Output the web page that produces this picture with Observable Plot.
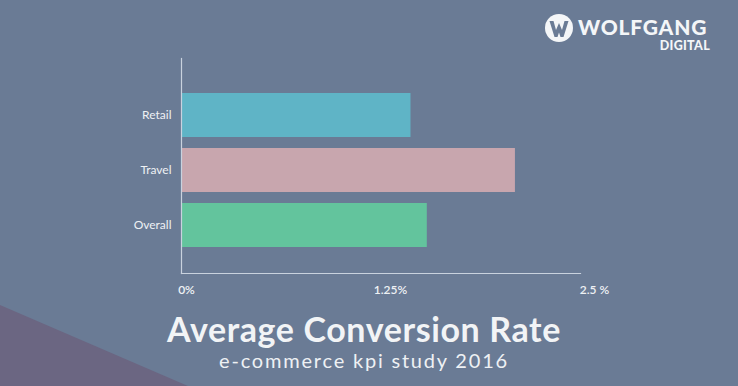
<!DOCTYPE html>
<html>
<head>
<meta charset="utf-8">
<script src="https://cdn.jsdelivr.net/npm/d3@7"></script>
<script src="https://cdn.jsdelivr.net/npm/@observablehq/plot@0.6"></script>
<style>
  html, body { margin: 0; padding: 0; }
  body { width: 738px; height: 386px; overflow: hidden; background: #6a7b95; font-family: Lato, "Open Sans", sans-serif; }
  #wrap { position: relative; width: 738px; height: 386px; }
  #deco { position: absolute; left: 0; top: 0; width: 738px; height: 386px; }
  #chart { position: absolute; left: 0; top: 0; }
  #title { position: absolute; left: 0; width: 728px; top: 309px; text-align: center; color: #f2f4f6; font-size: 34px; line-height: 40px; font-weight: 700; letter-spacing: 0.6px; }
  #subtitle { position: absolute; left: 0; width: 728px; top: 348px; text-align: center; color: #eef1f4; font-size: 20px; line-height: 24px; letter-spacing: 1.8px; font-weight: 400; }
  #logo { position: absolute; left: 544px; top: 13px; width: 170px; height: 45px; color: #f4f6f8; }
  #logo .word { position: absolute; left: 34px; top: 3px; font-size: 21px; font-weight: 900; letter-spacing: 0.8px; line-height: 22px; }
  #logo .sub { position: absolute; right: 4px; top: 27px; font-size: 12.5px; font-weight: 900; letter-spacing: 0.3px; line-height: 12px; }
</style>
</head>
<body>
<div id="wrap">
  <svg id="deco" width="738" height="386">
    <polygon points="0,305 0,386 188,386" fill="#6b6682"></polygon>
  </svg>
  <div id="chart"></div>
  <div id="logo">
    <svg width="30" height="30" style="position:absolute;left:0;top:1px">
      <circle cx="15" cy="14" r="14" fill="#f4f6f8"></circle>
      <path d="M5.5,7 L9.5,7 L12,16 L15,9 L18,16 L20.5,7 L24.5,7 L19.5,23 L16.5,23 L15,18.5 L13.5,23 L10.5,23 Z" fill="#6a7b95"></path>
    </svg>
    <div class="word">WOLFGANG</div>
    <div class="sub">DIGITAL</div>
  </div>
  <div id="title">Average Conversion Rate</div>
  <div id="subtitle">e-commerce kpi study 2016</div>
</div>
<script>
const categories = ["Retail", "Travel", "Overall"];
const rates = [1.40, 2.04, 1.50];
const barColors = ["#5fb4c6", "#c8a6ae", "#63c49d"];
const tickValues = [0, 1.25, 2.5];
const tickLabels = ["0%", "1.25%", "2.5 %"];

const data = categories.map((c, i) => ({category: c, rate: rates[i]}));

const chart = Plot.plot({
  width: 738,
  height: 300,
  marginLeft: 181,
  marginRight: 158,
  marginTop: 58,
  marginBottom: 27,
  style: {background: "transparent", color: "#eef1f4", fontFamily: "Lato, sans-serif", fontSize: "12px"},
  x: {domain: [0, 2.5], insetRight: -10, insetLeft: 1},
  y: {domain: categories, padding: 0.2, insetTop: 22, insetBottom: 14},
  color: {domain: categories, range: barColors},
  marks: [
    Plot.barX(data, {y: "category", x: "rate", fill: "category"}),
    Plot.axisX({ticks: tickValues, tickFormat: (d) => tickLabels[tickValues.indexOf(d)], tickSize: 0, tickPadding: 12, dx: 4, label: null, fontSize: 12, fontWeight: 600}),
    Plot.axisY({tickSize: 0, tickPadding: 10, label: null, fontSize: 12}),
    Plot.frame({anchor: "left", stroke: "#c9d2de", strokeWidth: 1.2}),
    Plot.frame({anchor: "bottom", stroke: "#c9d2de", strokeWidth: 1.2})
  ]
});
document.getElementById("chart").appendChild(chart);
</script>
</body>
</html>
